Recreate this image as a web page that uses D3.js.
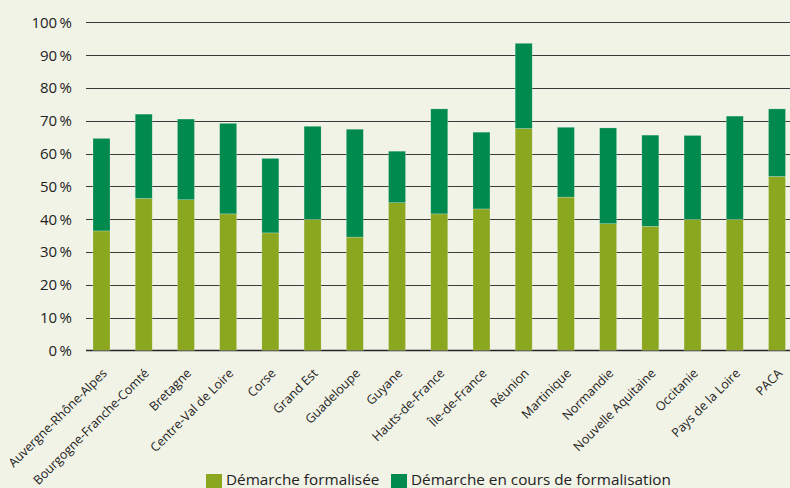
<!DOCTYPE html>
<html><head><meta charset="utf-8">
<script src="https://cdn.jsdelivr.net/npm/d3@7"></script>
<style>
html,body{margin:0;padding:0;background:#f2f3e7;}
svg{display:block;}
</style></head>
<body>
<script>
const categories = ["Auvergne-Rhône-Alpes","Bourgogne-Franche-Comté","Bretagne","Centre-Val de Loire","Corse","Grand Est","Guadeloupe","Guyane","Hauts-de-France","Île-de-France","Réunion","Martinique","Normandie","Nouvelle Aquitaine","Occitanie","Pays de la Loire","PACA"];
const formalisee = [36.4,46.3,45.9,41.6,35.8,39.9,34.5,45.0,41.6,43.1,67.6,46.7,38.6,37.8,39.9,39.9,53.0];
const enCours   = [28.2,25.7,24.6,27.6,22.7,28.4,32.9,15.7,32.0,23.4,26.0,21.3,29.2,27.8,25.6,31.5,20.6];
const yTicks = [0,10,20,30,40,50,60,70,80,90,100];
const seriesNames = ["Démarche formalisée","Démarche en cours de formalisation"];
const colors = ["#8aa71f","#008a4e"];

const W=790,H=488;
const svg=d3.select("body").append("svg").attr("width",W).attr("height",H);
svg.append("rect").attr("width",W).attr("height",H).attr("fill","#f2f3e7");

const y=d3.scaleLinear().domain([0,100]).range([350.3,22.3]);
const x=d3.scalePoint().domain(categories).range([101.5,777]);
const bw=17;

// grid
const g=svg.append("g");
g.selectAll("line.grid").data(yTicks).join("line")
 .attr("x1",86).attr("x2",790)
 .attr("y1",d=>Math.round(y(d))+0.5).attr("y2",d=>Math.round(y(d))+0.5)
 .attr("stroke",d=>d===0?"#222":"#3a3a3a").attr("stroke-width",d=>d===0?1.6:1);

// y labels
svg.append("g").selectAll("text").data(yTicks).join("text")
 .attr("x",72).attr("y",d=>y(d)).attr("dy","0.36em")
 .attr("text-anchor","end")
 .attr("font-family","'Open Sans','DejaVu Sans',sans-serif").attr("font-size",15).attr("fill","#222")
 .text(d=>d+"\u2009%");

// bars
const data=categories.map((c,i)=>({c,f:formalisee[i],e:enCours[i]}));
const stack=d3.stack().keys(["f","e"])(data);
svg.append("g").selectAll("g").data(stack).join("g")
 .attr("fill",(d,i)=>colors[i])
 .selectAll("rect").data(d=>d).join("rect")
 .attr("x",d=>x(d.data.c)-bw/2).attr("width",bw)
 .attr("y",d=>y(d[1])).attr("height",d=>y(d[0])-y(d[1]))
 .attr("stroke","rgba(255,255,255,0.35)").attr("stroke-width",0.6);

// x labels
svg.append("g").selectAll("text").data(categories).join("text")
 .attr("transform",d=>`translate(${x(d)+3},${371}) rotate(-45)`)
 .attr("text-anchor","end").attr("dy","0.35em")
 .attr("font-family","'Open Sans',sans-serif")
 .attr("font-size",12.5).attr("fill","#222")
 .text(d=>d);

// legend
const leg=svg.append("g");
const lx=[206,391];
seriesNames.forEach((n,i)=>{
  leg.append("rect").attr("x",lx[i]).attr("y",474).attr("width",16).attr("height",14).attr("fill",colors[i]);
  leg.append("text").attr("x",lx[i]+20).attr("y",485)
   .attr("font-family","'Open Sans',sans-serif")
   .attr("font-size",15.3).attr("fill","#222").text(n);
});
</script>
</body></html>
